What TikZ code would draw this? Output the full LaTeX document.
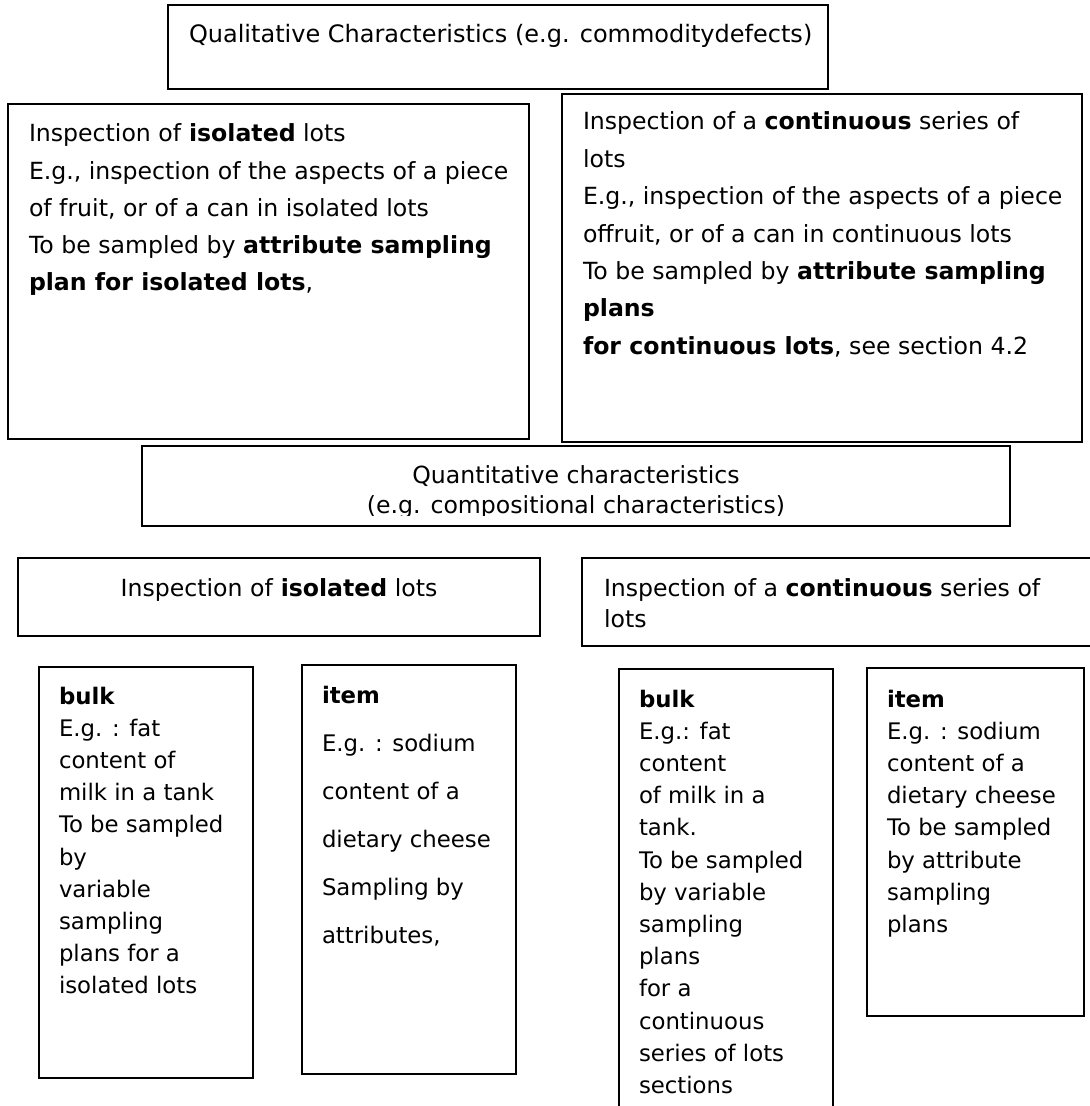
\documentclass[tikz,border=0pt]{standalone}
\usepackage{fontspec}
\setmainfont{DejaVu Sans}
\usetikzlibrary{fit}
\newcommand\ptext[4]{\parbox[t]{#1}{\raggedright\fontsize{#2}{#3}\selectfont #4}}
\newcommand\ctext[4]{\parbox[t]{#1}{\centering\fontsize{#2}{#3}\selectfont #4}}
\tikzset{
  box/.style={draw=black, line width=1pt, inner sep=0pt},
  txt/.style={anchor=base west, inner sep=0pt, outer sep=0pt},
  ctxt/.style={anchor=base, inner sep=0pt, outer sep=0pt}
}
\begin{document}
\begin{tikzpicture}[x=0.5pt,y=-0.5pt]
\useasboundingbox (0,0) rectangle (1089,1106);
\fill[white] (0,0) rectangle (1089,1106);

% boxes
\node[box, fit={(168,5)(828,89)}] (top) {};
\node[box, fit={(8,104)(529,439)}] (q1) {};
\node[box, fit={(562,94)(1082,442)}] (q2) {};
\node[box, fit={(142,446)(1010,526)}] (quant) {};
\node[box, fit={(18,558)(540,636)}] (qi) {};
\node[box, fit={(582,558)(1100,646)}] (qc) {};
\node[box, fit={(39,667)(253,1078)}] (b1) {};
\node[box, fit={(302,665)(516,1074)}] (i1) {};
\node[box, fit={(619,669)(833,1130)}] (b2) {};
\node[box, fit={(867,668)(1084,1016)}] (i2) {};

% texts
\node[txt] (ttop) at (189,43) {\ptext{400pt}{12}{18.6}{Qualitative Characteristics (e.g. commoditydefects)}};

\node[txt] (tq1) at (29,142) {\ptext{400pt}{11.8}{18.6}{%
Inspection of \textbf{isolated} lots\\
E.g., inspection of the aspects of a piece\\
of fruit, or of a can in isolated lots\\
To be sampled by \textbf{attribute sampling}\\
\textbf{plan for isolated lots},}};

\node[txt] (tq2) at (583,130) {\ptext{400pt}{11.8}{18.7}{%
Inspection of a \textbf{continuous} series of\\
lots\\
E.g., inspection of the aspects of a piece\\
offruit, or of a can in continuous lots\\
To be sampled by \textbf{attribute sampling}\\
\textbf{plans}\\
\textbf{for continuous lots}, see section 4.2}};

\begin{scope}
\clip (142,446) rectangle (1010,515);
\node[ctxt] (tquant) at (576,483) {\ctext{420pt}{11.8}{15}{%
Quantitative characteristics\\
(e.g. compositional characteristics)}};
\end{scope}

\node[ctxt] (tqi) at (279,596) {\ctext{260pt}{11.8}{15}{Inspection of \textbf{isolated} lots}};

\node[txt] (tqc) at (604,596) {\ptext{400pt}{11.8}{15.5}{%
Inspection of a \textbf{continuous} series of\\
lots}};

\node[txt] (tb1) at (59,704) {\ptext{200pt}{11.4}{16.1}{%
\textbf{bulk}\\
E.g. : fat\\
content of\\
milk in a tank\\
To be sampled\\
by\\
variable\\
sampling\\
plans for a\\
isolated lots}};

\node[txt] (ti1) at (322,703) {\ptext{200pt}{11.4}{24.05}{%
\textbf{item}\\
E.g. : sodium\\
content of a\\
dietary cheese\\
Sampling by\\
attributes,}};

\node[txt] (tb2) at (639,707) {\ptext{200pt}{11.4}{16.1}{%
\textbf{bulk}\\
E.g.: fat\\
content\\
of milk in a\\
tank.\\
To be sampled\\
by variable\\
sampling\\
plans\\
for a\\
continuous\\
series of lots\\
sections}};

\node[txt] (ti2) at (887,707) {\ptext{200pt}{11.4}{16.1}{%
\textbf{item}\\
E.g. : sodium\\
content of a\\
dietary cheese\\
To be sampled\\
by attribute\\
sampling\\
plans}};
\end{tikzpicture}
\end{document}
